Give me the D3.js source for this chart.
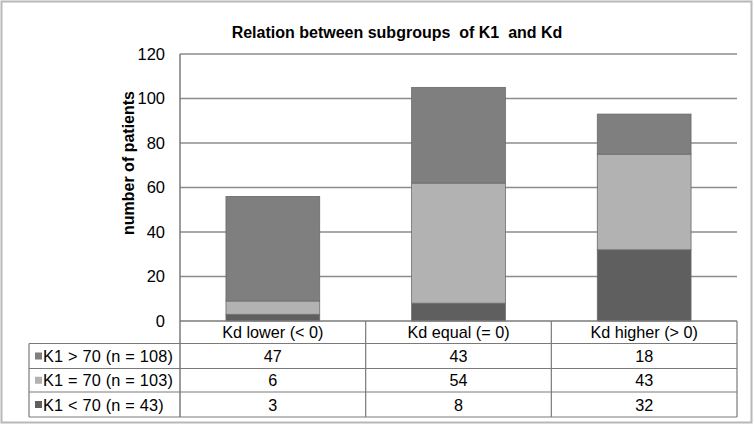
<!DOCTYPE html>
<html><head><meta charset="utf-8">
<script src="https://cdn.jsdelivr.net/npm/d3@7"></script>
<style>body{margin:0;background:#fff}svg{display:block}text{white-space:pre}</style>
</head><body>
<svg id="c" width="755" height="426"></svg>
<script>
const categories = ["Kd lower (< 0)", "Kd equal (= 0)", "Kd higher (> 0)"];
const seriesNames = ["K1 > 70 (n = 108)", "K1 = 70 (n = 103)", "K1 < 70 (n = 43)"];
const k1Above = [47, 43, 18];
const k1Equal = [6, 54, 43];
const k1Below = [3, 8, 32];
const yTicks = [0, 20, 40, 60, 80, 100, 120];
const title = "Relation between subgroups  of K1  and Kd";
const yTitle = "number of patients";

const colors = {above: "#7f7f7f", equal: "#b2b2b2", below: "#5f5f5f"};
const svg = d3.select("#c");
const font = "Liberation Sans, Arial, sans-serif";
const m = {l: 180, r: 737, t: 54, b: 321};

svg.append("rect").attr("x", 1.5).attr("y", 1.5).attr("width", 750).attr("height", 421)
  .attr("fill", "#fff").attr("stroke", "#b8b8b8").attr("stroke-width", 2);

const x = d3.scaleBand().domain(categories).range([m.l, m.r]).paddingInner(0).paddingOuter(0);
const y = d3.scaleLinear().domain([0, 120]).range([m.b, m.t]);

svg.append("g").selectAll("line").data(yTicks.filter(d => d > 0)).join("line")
  .attr("x1", m.l).attr("x2", m.r).attr("y1", d => y(d)).attr("y2", d => y(d))
  .attr("stroke", "#8c8c8c").attr("stroke-width", 1.5);

const ya = svg.append("g").attr("transform", `translate(${m.l},0)`)
  .call(d3.axisLeft(y).tickValues(yTicks).tickSize(0).tickPadding(15));
ya.select(".domain").remove();
ya.selectAll("text").attr("font-family", font).attr("font-size", 16.5).attr("fill", "#000");

const rows = categories.map((c, i) => ({cat: c, below: k1Below[i], equal: k1Equal[i], above: k1Above[i]}));
const stack = d3.stack().keys(["below", "equal", "above"])(rows);
const bw = x.bandwidth() * 0.505;
svg.append("g").selectAll("g").data(stack).join("g")
  .attr("fill", d => colors[d.key])
  .selectAll("rect").data(d => d).join("rect")
  .attr("x", d => x(d.data.cat) + (x.bandwidth() - bw) / 2)
  .attr("width", bw)
  .attr("y", d => y(d[1]))
  .attr("height", d => y(d[0]) - y(d[1]))
  .attr("stroke", "#6a6a6a").attr("stroke-width", 0.8);

const tableLeft = 29;
const rowY = [321, 343.5, 368.5, 392, 417];
const g = svg.append("g");
const lineColor = "#7a7a7a";
g.append("line").attr("x1", m.l).attr("x2", m.r).attr("y1", rowY[0]).attr("y2", rowY[0]).attr("stroke", lineColor).attr("stroke-width", 1.5);
[1, 2, 3, 4].forEach(i => g.append("line").attr("x1", tableLeft).attr("x2", m.r)
  .attr("y1", rowY[i]).attr("y2", rowY[i]).attr("stroke", lineColor).attr("stroke-width", 1.2));
g.append("line").attr("x1", tableLeft).attr("x2", tableLeft).attr("y1", rowY[1]).attr("y2", rowY[4]).attr("stroke", lineColor).attr("stroke-width", 1.2);
g.append("line").attr("x1", m.l).attr("x2", m.l).attr("y1", m.t).attr("y2", rowY[4]).attr("stroke", lineColor).attr("stroke-width", 1.5);
categories.forEach(c => g.append("line").attr("x1", x(c) + x.bandwidth()).attr("x2", x(c) + x.bandwidth())
  .attr("y1", rowY[0]).attr("y2", rowY[4]).attr("stroke", lineColor).attr("stroke-width", 1.2));

g.selectAll("text.cat").data(categories).join("text").attr("class", "cat")
  .attr("x", d => x(d) + x.bandwidth() / 2).attr("y", (rowY[0] + rowY[1]) / 2 + 6)
  .attr("text-anchor", "middle").attr("font-family", font).attr("font-size", 16.2).text(d => d);

const tableSeries = [
  {name: seriesNames[0], vals: k1Above, color: colors.above},
  {name: seriesNames[1], vals: k1Equal, color: colors.equal},
  {name: seriesNames[2], vals: k1Below, color: colors.below}
];
tableSeries.forEach((s, i) => {
  const cy = (rowY[i + 1] + rowY[i + 2]) / 2;
  g.append("rect").attr("x", 35).attr("y", cy - 3.5).attr("width", 7).attr("height", 7).attr("fill", s.color);
  g.append("text").attr("x", 43).attr("y", cy + 6).attr("font-family", font).attr("font-size", 16.3)
    .attr("letter-spacing", 0.2).text(s.name);
  s.vals.forEach((v, j) => {
    g.append("text").attr("x", x(categories[j]) + x.bandwidth() / 2).attr("y", cy + 6)
      .attr("text-anchor", "middle").attr("font-family", font).attr("font-size", 16.2).text(v);
  });
});

svg.append("text").attr("x", 397).attr("y", 38).attr("text-anchor", "middle")
  .attr("font-family", "Liberation Sans Narrow, Arial Narrow, " + font).attr("font-weight", "bold")
  .attr("font-size", 16).text(title);

svg.append("text").attr("transform", `translate(134,163) rotate(-90)`).attr("text-anchor", "middle")
  .attr("font-family", font).attr("font-weight", "bold").attr("font-size", 16).text(yTitle);
</script>
</body></html>
